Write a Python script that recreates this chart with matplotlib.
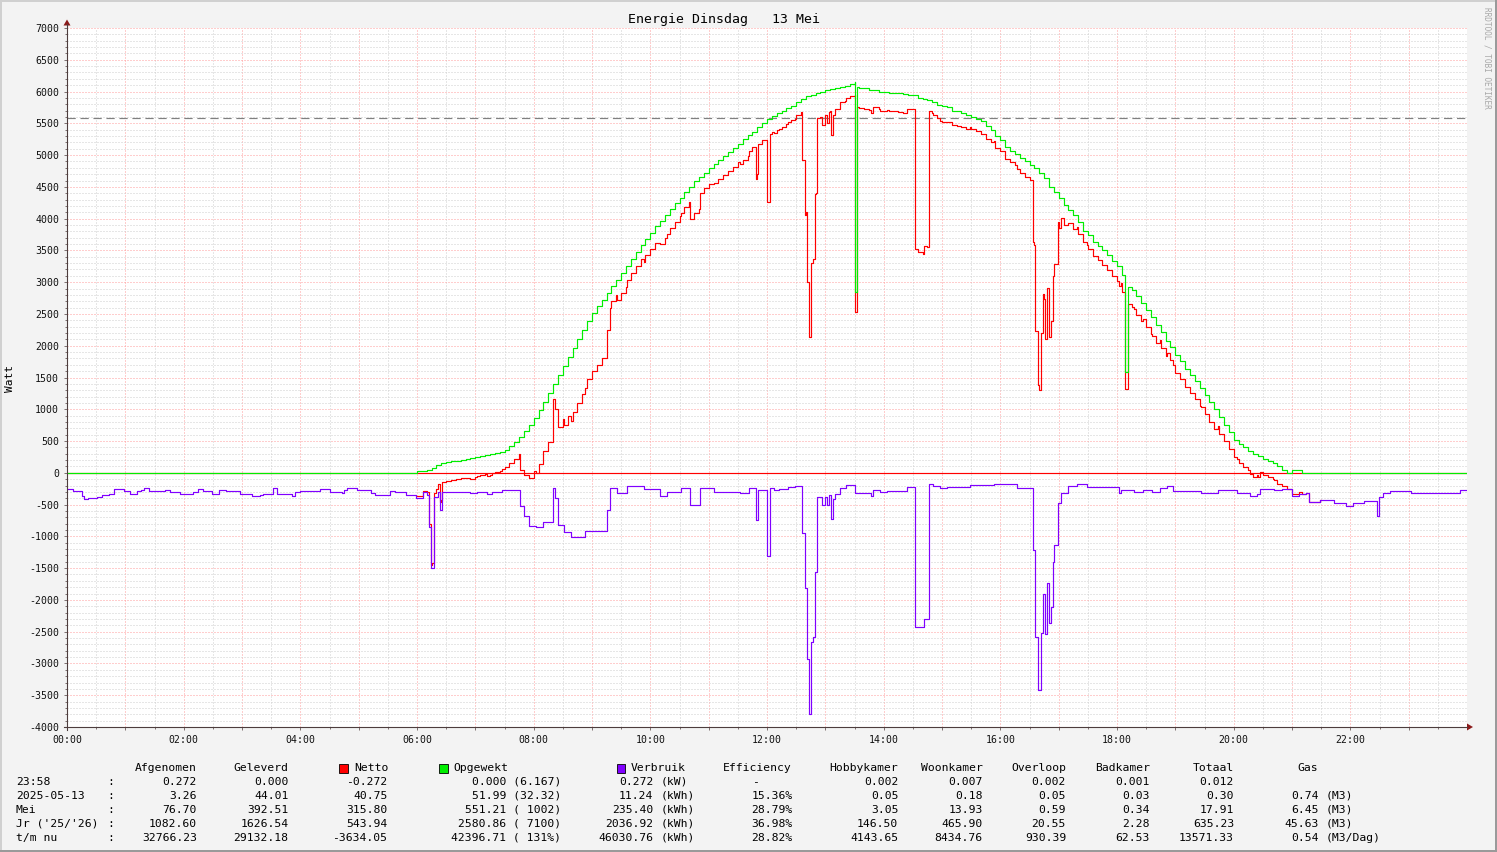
import matplotlib
matplotlib.use('Agg')
import matplotlib.pyplot as plt
from matplotlib.patches import Rectangle, Polygon
from matplotlib.lines import Line2D
from matplotlib.ticker import MultipleLocator, FixedLocator, FixedFormatter

plt.rcParams['axes.unicode_minus'] = False
MONO = 'DejaVu Sans Mono'

# ---------------- data (time in minutes since 00:00, values in Watt) ----------------
TITLE = "Energie Dinsdag   13 Mei"
YLABEL = "Watt"
XTICK_LABELS = ["00:00", "02:00", "04:00", "06:00", "08:00", "10:00",
                "12:00", "14:00", "16:00", "18:00", "20:00", "22:00"]
REF_LINE = 5585

opgewekt_t = [0, 360, 365, 370, 375, 380, 385, 390, 395, 400, 405, 410, 415, 420, 425, 430, 435,
              440, 445, 450, 455, 460, 465, 470, 475, 480, 485, 490, 495, 500, 505, 510, 515,
              520, 525, 530, 535, 540, 545, 550, 555, 560, 565, 570, 575, 580, 585, 590, 595,
              600, 605, 610, 615, 620, 625, 630, 635, 640, 645, 650, 655, 660, 665, 670, 675,
              680, 685, 690, 695, 700, 705, 710, 715, 720, 725, 730, 735, 740, 745, 750, 755,
              760, 765, 770, 775, 780, 785, 790, 795, 800, 805, 810, 811, 813, 815, 820, 825,
              830, 835, 840, 845, 850, 855, 860, 865, 870, 875, 880, 885, 890, 895, 900, 905,
              910, 915, 920, 925, 930, 935, 940, 945, 950, 955, 960, 965, 970, 975, 980, 985,
              990, 995, 1000, 1005, 1010, 1015, 1020, 1025, 1030, 1035, 1040, 1045, 1050, 1055,
              1060, 1065, 1070, 1075, 1080, 1085, 1088, 1091, 1095, 1100, 1105, 1110, 1115,
              1120, 1125, 1130, 1135, 1140, 1145, 1150, 1155, 1160, 1165, 1170, 1175, 1180,
              1185, 1190, 1195, 1200, 1205, 1210, 1215, 1220, 1225, 1230, 1235, 1240, 1245,
              1250, 1255, 1260, 1270, 1440]
opgewekt_v = [0, 30, 30, 47, 73, 126, 155, 170, 180, 190, 205, 215, 230, 250, 262, 275, 290,
              310, 330, 362, 420, 490, 570, 660, 760, 860, 990, 1120, 1260, 1400, 1540, 1678, 1820,
              1960, 2100, 2250, 2390, 2518, 2620, 2720, 2830, 2940, 3040, 3143, 3250, 3360, 3470, 3580, 3680,
              3780, 3880, 3970, 4060, 4150, 4240, 4330, 4420, 4500, 4590, 4650, 4720, 4790, 4860, 4920, 4980,
              5050, 5110, 5180, 5250, 5310, 5370, 5440, 5500, 5566, 5610, 5660, 5700, 5740, 5780, 5830, 5880,
              5930, 5950, 5970, 5990, 6020, 6040, 6060, 6075, 6090, 6120, 6145, 2850, 6070, 6060, 6050, 6030,
              6020, 6000, 5990, 5980, 5975, 5970, 5955, 5950, 5945, 5900, 5880, 5860, 5840, 5790, 5770, 5750,
              5700, 5690, 5670, 5630, 5600, 5570, 5530, 5450, 5400, 5300, 5240, 5120, 5070, 5020, 4960, 4900,
              4850, 4800, 4720, 4640, 4500, 4420, 4330, 4220, 4140, 4050, 3940, 3810, 3740, 3640,
              3570, 3500, 3420, 3330, 3250, 3120, 1579, 2930, 2870, 2780, 2680, 2560, 2450,
              2330, 2210, 2080, 1980, 1860, 1760, 1640, 1540, 1440, 1340, 1230, 1110, 1000,
              880, 760, 640, 520, 460, 400, 350, 300, 260, 220, 190, 150, 100,
              50, 0, 42, 0, 0]

verbruik_t = [0, 6, 15, 17, 22, 31, 36, 43, 48, 59, 65, 72, 76, 79, 84, 101, 106, 116, 130, 135,
              140, 149, 156, 164, 178, 190, 198, 202, 212, 216, 231, 234, 240, 260, 270, 283, 285,
              288, 298, 313, 317, 332, 337, 349, 359, 366, 370, 372, 374, 377, 382, 384, 386, 415,
              422, 432, 437, 447, 466, 470, 475, 482, 490, 500, 502, 505, 511, 518, 533, 555, 558,
              566, 576, 593, 610, 617, 632, 641, 651, 665, 692, 701, 709, 711, 720, 723, 727, 732,
              742, 749, 756, 759, 761, 763, 765, 767, 769, 771, 777, 780, 782, 784, 786, 788, 790,
              795, 801, 811, 827, 829, 836, 843, 864, 872, 881, 887, 891, 898, 905, 929, 953, 977,
              994, 996, 999, 1002, 1004, 1005.5, 1008, 1010, 1012, 1014, 1015, 1019, 1022, 1030,
              1039, 1049, 1063, 1082, 1084, 1097, 1107, 1116, 1124, 1131, 1138, 1166, 1184, 1203,
              1217, 1224, 1227, 1241, 1250, 1260, 1267, 1274, 1277, 1289, 1303, 1316, 1323, 1334,
              1347, 1349, 1354, 1361, 1382, 1402, 1419, 1433, 1440]
verbruik_v = [-257, -288, -362, -414, -404, -383, -346, -330, -257, -288, -330, -290, -278, -246, -283, -267, -299, -341, -309, -262,
              -283, -330, -267, -283, -330, -372, -346, -330, -246, -330, -372, -299, -283, -250, -299, -320, -267,
              -246, -278, -320, -351, -283, -299, -346, -400, -309, -346, -860, -1500, -388, -309, -582, -294, -320,
              -300, -330, -300, -273, -530, -687, -834, -855, -770, -241, -400, -824, -929, -1008, -918, -582, -241,
              -320, -215, -257, -372, -294, -241, -503, -241, -294, -320, -241, -740, -270, -1310, -240, -267, -257,
              -225, -205, -950, -1820, -2930, -3800, -2655, -2590, -1563, -383, -514, -383, -514, -346, -724, -414, -330,
              -246, -194, -320, -362, -267, -299, -288, -225, -2430, -2303, -173, -205, -246, -225, -194, -183, -240,
              -1222, -2576, -3415, -2513, -1905, -2534, -1738, -2367, -2104, -1396, -1133, -477, -320, -215,
              -183, -225, -225, -310, -267, -294, -267, -294, -240, -200, -283, -310, -267, -310,
              -372, -330, -250, -270, -250, -372, -340, -320, -467, -435, -477, -530, -477, -451,
              -687, -383, -320, -283, -310, -320, -310, -267, -267]

netto_t = [360, 366, 370, 372, 374, 375, 377, 380, 382, 384, 385, 386, 390, 395, 400, 405, 410, 415,
           420, 422, 425, 430, 432, 435, 437, 440, 445, 447, 450, 455, 460, 465, 466, 470, 475, 480,
           482, 485, 490, 495, 500, 502, 505, 510, 511, 515, 518, 520, 525, 530, 533, 535, 540, 545,
           550, 555, 558, 560, 565, 566, 570, 575, 576, 580, 585, 590, 593, 595, 600, 605, 610, 615,
           617, 620, 625, 630, 632, 635, 640, 641, 645, 650, 651, 655, 660, 665, 670, 675, 680, 685,
           690, 692, 695, 700, 701, 705, 709, 710, 711, 715, 720, 723, 725, 727, 730, 732, 735, 740,
           742, 745, 749, 750, 755, 756, 759, 760, 761, 763, 765, 767, 769, 770, 771, 775, 777, 780,
           782, 784, 785, 786, 788, 790, 795, 800, 801, 805, 810, 811, 813, 815, 820, 825, 827, 829,
           830, 835, 836, 840, 843, 845, 850, 855, 860, 864, 865, 870, 872, 875, 880, 881, 885, 887,
           890, 891, 895, 898, 900, 905, 910, 915, 920, 925, 929, 930, 935, 940, 945, 950, 953, 955,
           960, 965, 970, 975, 977, 980, 985, 990, 994, 995, 996, 999, 1000, 1002, 1004, 1005, 1005.5,
           1008, 1010, 1012, 1014, 1015, 1019, 1020, 1022, 1025, 1030, 1035, 1039, 1040, 1045, 1049,
           1050, 1055, 1060, 1065, 1070, 1075, 1080, 1082, 1084, 1085, 1088, 1091, 1095, 1097, 1100,
           1105, 1107, 1110, 1115, 1116, 1120, 1124, 1125, 1130, 1131, 1135, 1138, 1140, 1145, 1150,
           1155, 1160, 1165, 1166, 1170, 1175, 1180, 1184, 1185, 1190, 1195, 1200, 1203, 1205, 1210,
           1215, 1217, 1220, 1224, 1225, 1227, 1230, 1235, 1240, 1241, 1245, 1250, 1255, 1260, 1267,
           1270, 1274, 1277, 1289, 1290]
netto_v = [-370, -279, -299, -813, -1453, -1427, -315, -262, -183, -456, -427, -139, -124, -114, -104, -89, -79, -90,
           -70, -50, -38, -25, -55, -40, -10, 10, 30, 57, 89, 147, 217, 297, 40, -27, -74, 26,
           5, 135, 350, 490, 1159, 1000, 716, 854, 749, 891, 812, 952, 1092, 1242, 1332, 1472, 1600, 1702,
           1802, 2248, 2589, 2699, 2799, 2720, 2823, 2930, 3035, 3145, 3255, 3365, 3323, 3423, 3523, 3623, 3598, 3688,
           3766, 3856, 3946, 4036, 4089, 4179, 4259, 3997, 4087, 4147, 4409, 4479, 4549, 4566, 4626, 4686, 4756, 4816,
           4886, 4860, 4930, 4990, 5069, 5129, 4630, 4700, 5170, 5230, 4256, 5326, 5370, 5343, 5393, 5403, 5443, 5483,
           5515, 5555, 5575, 5625, 5675, 4930, 4060, 4110, 3000, 2130, 3295, 3360, 4387, 4407, 5587, 5607, 5476, 5637,
           5506, 5674, 5694, 5316, 5626, 5730, 5829, 5844, 5896, 5926, 5951, 2530, 5750, 5740, 5730, 5710, 5668, 5763,
           5753, 5733, 5701, 5691, 5702, 5692, 5687, 5682, 5667, 5730, 5725, 5720, 3515, 3470, 3450, 3577, 3557, 5687,
           5667, 5635, 5585, 5544, 5524, 5525, 5475, 5465, 5445, 5405, 5436, 5406, 5376, 5336, 5256, 5206, 5217, 5117,
           5057, 4937, 4887, 4837, 4780, 4720, 4660, 4610, 3628, 3578, 2224, 1385, 1305, 2207, 2815, 2735, 2106,
           2902, 2133, 2396, 3104, 3287, 3943, 3853, 4010, 3900, 3925, 3835, 3867, 3757, 3627, 3585,
           3515, 3415, 3345, 3275, 3195, 3105, 3025, 2940, 2983, 2853, 1312, 2663, 2603, 2576, 2486,
           2386, 2413, 2293, 2183, 2156, 2036, 2090, 1970, 1840, 1880, 1780, 1697, 1577, 1477, 1357,
           1257, 1157, 1057, 1030, 920, 800, 690, 733, 613, 493, 373, 253, 210, 150, 90,
           40, -22, -72, -30, -70, 10, -30, -60, -100, -120, -170, -200, -250, -330, -298,
           -340, -320, -467, -435, -435]

# legend table
ROW_LABELS = ["23:58", "2025-05-13", "Mei", "Jr ('25/'26)", "t/m nu"]
AFGENOMEN = ["0.272", "3.26", "76.70", "1082.60", "32766.23"]
GELEVERD = ["0.000", "44.01", "392.51", "1626.54", "29132.18"]
NETTO = ["-0.272", "40.75", "315.80", "543.94", "-3634.05"]
OPGEWEKT = ["0.000 (6.167)", "51.99 (32.32)", "551.21 ( 1002)", "2580.86 ( 7100)", "42396.71 ( 131%)"]
VERBRUIK = ["0.272", "11.24", "235.40", "2036.92", "46030.76"]
VERBRUIK_UNIT = ["(kW)", "(kWh)", "(kWh)", "(kWh)", "(kWh)"]
EFFICIENCY = ["-", "15.36%", "28.79%", "36.98%", "28.82%"]
HOBBYKAMER = ["0.002", "0.05", "3.05", "146.50", "4143.65"]
WOONKAMER = ["0.007", "0.18", "13.93", "465.90", "8434.76"]
OVERLOOP = ["0.002", "0.05", "0.59", "20.55", "930.39"]
BADKAMER = ["0.001", "0.03", "0.34", "2.28", "62.53"]
TOTAAL = ["0.012", "0.30", "17.91", "635.23", "13571.33"]
GAS = ["", "0.74", "6.45", "45.63", "0.54"]
GAS_UNIT = ["", "(M3)", "(M3)", "(M3)", "(M3/Dag)"]

C_NETTO = '#ff0000'
C_OPGEWEKT = '#00ee00'
C_VERBRUIK = '#8000ff'

# ---------------- figure ----------------
W, H = 1497, 852
fig = plt.figure(figsize=(W / 100, H / 100), dpi=100)
fig.patch.set_facecolor('#f3f3f3')

def fx(x):
    return x / W

def fy(y):
    return 1 - y / H

# frame borders
fig.add_artist(Rectangle((0, fy(2)), 1, 2 / H, transform=fig.transFigure, color='#d0d0d0', lw=0))
fig.add_artist(Rectangle((0, 0), 2 / W, 1, transform=fig.transFigure, color='#d0d0d0', lw=0))
fig.add_artist(Rectangle((0, 0), 1, 2 / H, transform=fig.transFigure, color='#9a9a9a', lw=0))
fig.add_artist(Rectangle((1 - 2 / W, 0), 2 / W, 1, transform=fig.transFigure, color='#9a9a9a', lw=0))

ax = fig.add_axes([fx(67), fy(727), 1400 / W, 699 / H])
ax.set_facecolor('white')
ax.set_xlim(0, 1440)
ax.set_ylim(-4000, 7000)
for s in ax.spines.values():
    s.set_visible(False)

# grid
hour_labels = []
for i in range(24):
    hour_labels.append(XTICK_LABELS[i // 2] if i % 2 == 0 else "")
ax.xaxis.set_major_locator(FixedLocator([60 * i for i in range(24)]))
ax.xaxis.set_major_formatter(FixedFormatter(hour_labels))
ax.xaxis.set_minor_locator(MultipleLocator(30))
ax.yaxis.set_major_locator(MultipleLocator(500))
ax.yaxis.set_minor_locator(MultipleLocator(100))
ax.set_axisbelow(True)
ax.grid(which='minor', color='#cfcfcf', linestyle=(0, (1, 2)), lw=0.72)
ax.grid(which='major', color='#ff9c9c', linestyle=(0, (1, 2)), lw=0.72)
ax.tick_params(which='both', direction='out', color='#6a5a5a', width=0.6,
               labelsize=7.1, labelcolor='#111111')
ax.tick_params(which='major', length=2.5, pad=3.2)
ax.tick_params(which='minor', length=1.4)
for lab in ax.get_xticklabels() + ax.get_yticklabels():
    lab.set_family(MONO)

# reference line and zero line
ax.axhline(REF_LINE, color='#808080', lw=0.85, linestyle=(0, (7, 4)), zorder=2)
ax.axhline(0, color=C_NETTO, lw=0.85, zorder=2)

# series
ax.step(netto_t, netto_v, where='post', color=C_NETTO, lw=0.85, zorder=3)
ax.step(opgewekt_t, opgewekt_v, where='post', color=C_OPGEWEKT, lw=0.85, zorder=4)
ax.step(verbruik_t, verbruik_v, where='post', color=C_VERBRUIK, lw=0.85, zorder=5)

# axes lines with arrows
axis_col = '#4d3d3d'
fig.add_artist(Line2D([fx(67), fx(67)], [fy(730), fy(24)], transform=fig.transFigure, color=axis_col, lw=0.8))
fig.add_artist(Line2D([fx(64), fx(1467)], [fy(727), fy(727)], transform=fig.transFigure, color=axis_col, lw=0.8))
fig.add_artist(Polygon([[fx(63.5), fy(25.5)], [fx(70.5), fy(25.5)], [fx(67), fy(19.5)]],
                       closed=True, transform=fig.transFigure, color='#8b1a1a', lw=0))
fig.add_artist(Polygon([[fx(1467), fy(723.5)], [fx(1467), fy(730.5)], [fx(1473), fy(727)]],
                       closed=True, transform=fig.transFigure, color='#8b1a1a', lw=0))

# texts
fig.text(fx(724), fy(19), TITLE, family=MONO, fontsize=9.5, ha='center', va='center', color='#000000')
fig.text(fx(10), fy(378), YLABEL, family=MONO, fontsize=8, rotation=90, ha='center', va='center', color='#000000')
fig.text(fx(1487), fy(58), "RRDTOOL / TOBI OETIKER", family=MONO, fontsize=5.6, rotation=270,
         ha='center', va='center', color='#a8a8a8')

# legend table
FS = 8.2
def t(x, y, s, ha='left'):
    fig.text(fx(x), fy(y), s, family=MONO, fontsize=FS, ha=ha, va='center', color='#000000')

hy = 768
t(197, hy, "Afgenomen", 'right')
t(288.5, hy, "Geleverd", 'right')
t(354, hy, "Netto")
t(453.4, hy, "Opgewekt")
t(631, hy, "Verbruik")
t(791.5, hy, "Efficiency", 'right')
t(898.3, hy, "Hobbykamer", 'right')
t(982.7, hy, "Woonkamer", 'right')
t(1066, hy, "Overloop", 'right')
t(1150, hy, "Badkamer", 'right')
t(1234, hy, "Totaal", 'right')
t(1297, hy, "Gas")
for xs, col in [(339, C_NETTO), (439, C_OPGEWEKT), (616.5, C_VERBRUIK)]:
    fig.add_artist(Rectangle((fx(xs), fy(772.5)), 8.5 / W, 8.5 / H, transform=fig.transFigure,
                             facecolor=col, edgecolor='#000000', lw=0.6))

for i in range(5):
    y = 782 + 14 * i
    t(16, y, ROW_LABELS[i])
    t(111, y, ":", 'center')
    t(197, y, AFGENOMEN[i], 'right')
    t(288.5, y, GELEVERD[i], 'right')
    t(387.5, y, NETTO[i], 'right')
    t(561, y, OPGEWEKT[i], 'right')
    t(653.5, y, VERBRUIK[i], 'right')
    t(660.4, y, VERBRUIK_UNIT[i])
    if EFFICIENCY[i] == "-":
        t(755, y, EFFICIENCY[i], 'center')
    else:
        t(792.5, y, EFFICIENCY[i], 'right')
    t(898.3, y, HOBBYKAMER[i], 'right')
    t(982.7, y, WOONKAMER[i], 'right')
    t(1066, y, OVERLOOP[i], 'right')
    t(1150, y, BADKAMER[i], 'right')
    t(1234, y, TOTAAL[i], 'right')
    if GAS[i]:
        t(1318.7, y, GAS[i], 'right')
        t(1325.5, y, GAS_UNIT[i])

fig.savefig('out.png', dpi=100, facecolor=fig.get_facecolor())
